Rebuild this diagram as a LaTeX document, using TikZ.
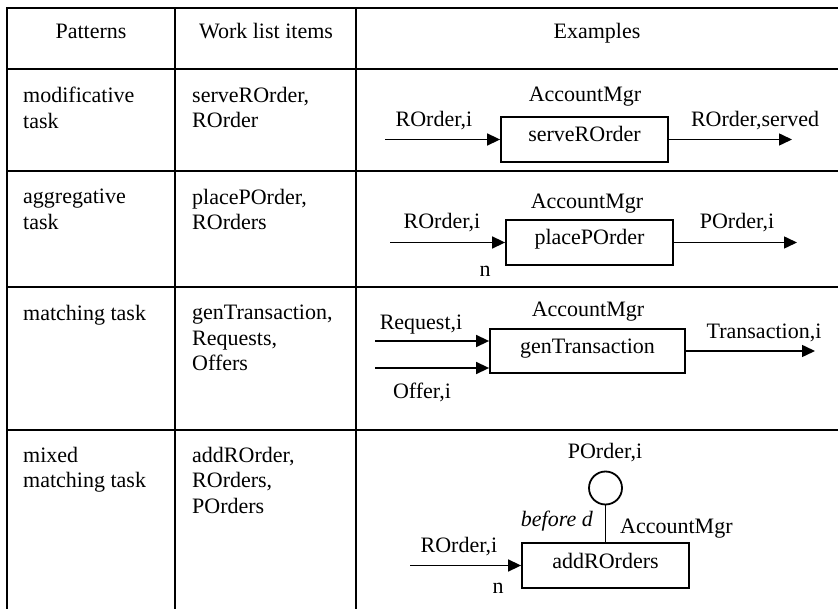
\documentclass[tikz,border=0pt]{standalone}
\usepackage{fontspec}
\setmainfont{Liberation Serif}
\usetikzlibrary{arrows.meta}
\begin{document}
\begin{tikzpicture}[x=1pt,y=-1pt,
  every node/.style={font=\fontsize{22}{25.5}\selectfont, inner sep=0pt},
  rule/.style={line width=2pt},
  taskbox/.style={draw, line width=1.8pt, minimum height=45pt,
    text height=0.7em, text depth=0.2em},
  flow/.style={line width=1.5pt, -{Triangle[length=13pt,width=12pt]}},
  lbl/.style={anchor=base},
  cell/.style={anchor=north west, align=left},
]
\useasboundingbox (0,0) rectangle (838,609);

% table rules
\draw[rule] (7,609) -- (7,8) -- (838,8);
\foreach \y in {69,171,287,430} \draw[rule] (7,\y) -- (838,\y);
\draw[rule] (175,8) -- (175,609);
\draw[rule] (356,8) -- (356,609);

% header
\node[lbl] (h1) at (91,38.6) {Patterns};
\node[lbl] (h2) at (266,38.6) {Work list items};
\node[lbl] (h3) at (597,38.6) {Examples};

% first two columns
\node[cell] (p1) at (23,87) {modificative\\task};
\node[cell] (w1) at (192,87) {serveROrder,\\ROrder};
\node[cell] (p2) at (23,189) {aggregative\\task};
\node[cell] (w2) at (192,189) {placePOrder,\\ROrders};
\node[cell] (p3) at (23,305) {matching task};
\node[cell] (w3) at (192,305) {genTransaction,\\Requests,\\Offers};
\node[cell] (p4) at (23,447) {mixed\\matching task};
\node[cell] (w4) at (192,447) {addROrder,\\ROrders,\\POrders};

% modificative task
\node[taskbox, minimum width=167pt] (b1) at (584.5,139.5) {serveROrder};
\node[lbl] (r1) at (585,101.6) {AccountMgr};
\coordinate (i1) at (385,139.5);
\coordinate (o1) at (792,139.5);
\draw[flow] (i1) -- (b1.west);
\draw[flow] (b1.east) -- (o1);
\node[lbl] (l1a) at (434,126.6) {ROrder,i};
\node[lbl] (l1b) at (755,126.6) {ROrder,served};

% aggregative task
\node[taskbox, minimum width=167pt] (b2) at (589.5,242.5) {placePOrder};
\node[lbl] (r2) at (587,208.6) {AccountMgr};
\coordinate (i2) at (390,242.5);
\coordinate (o2) at (797,242.5);
\draw[flow] (i2) -- (b2.west);
\draw[flow] (b2.east) -- (o2);
\node[lbl] (l2a) at (442,228.6) {ROrder,i};
\node[lbl] (l2b) at (737,228.6) {POrder,i};
\node[lbl] (n2) at (485,277) {n};

% matching task
\node[taskbox, minimum width=195pt, minimum height=44pt] (b3) at (587.5,351) {genTransaction};
\node[lbl] (r3) at (588,316.6) {AccountMgr};
\coordinate (i3a) at (375,341);
\coordinate (i3b) at (375,368);
\coordinate (o3) at (815,351);
\draw[flow] (i3a) -- (i3a -| b3.west);
\draw[flow] (i3b) -- (i3b -| b3.west);
\draw[flow] (b3.east) -- (o3);
\node[lbl] (l3a) at (421,329.6) {Request,i};
\node[lbl] (l3b) at (422,398.6) {Offer,i};
\node[lbl] (l3c) at (764,338.6) {Transaction,i};

% mixed matching task
\node[taskbox, minimum width=167pt] (b4) at (605.5,565.5) {addROrders};
\node[draw, circle, line width=1.8pt, minimum size=33pt] (c4) at (605.5,488) {};
\draw[line width=1.5pt] (c4.south) -- (b4.north);
\node[lbl] (l4c) at (605,458.6) {POrder,i};
\node[anchor=base east, font=\fontsize{22}{25}\selectfont\itshape] (l4d) at (593,526.6) {before d};
\node[anchor=base west] (r4) at (620,533.6) {AccountMgr};
\coordinate (i4) at (410,565.5);
\draw[flow] (i4) -- (b4.west);
\node[lbl] (l4a) at (459,552.6) {ROrder,i};
\node[lbl] (n4) at (498,593) {n};
\end{tikzpicture}
\end{document}
